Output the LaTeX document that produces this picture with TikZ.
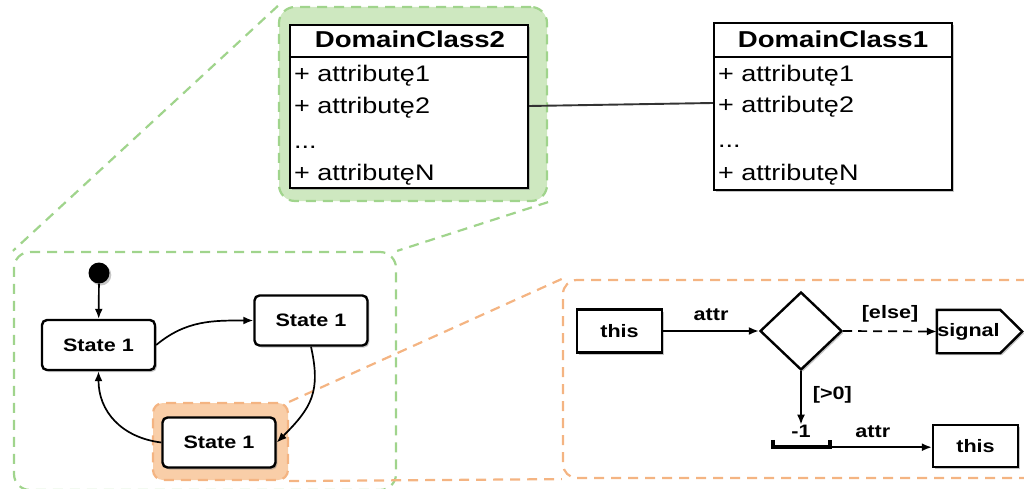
\documentclass[tikz,border=0pt]{standalone}
\usepackage{fontspec}
\setmainfont{Liberation Sans}[FakeStretch=1.2]
\usetikzlibrary{arrows.meta,shadows,shapes.geometric,backgrounds}

\definecolor{zgreen}{RGB}{160,212,140}
\definecolor{zgreenfill}{RGB}{206,232,192}
\definecolor{zorange}{RGB}{244,180,130}
\definecolor{zorangefill}{RGB}{249,206,168}

\begin{document}
\begin{tikzpicture}[x=1pt,y=-1pt,
  shade/.style={drop shadow={shadow xshift=1.8pt,shadow yshift=-2pt,opacity=0.45}},
  classbox/.style={draw=black,line width=2.4pt,fill=white,inner sep=0pt,shade},
  classtitle/.style={font=\fontsize{23}{26}\selectfont\bfseries,anchor=base,inner sep=0pt},
  attrtext/.style={font=\fontsize{22.5}{26}\selectfont,anchor=base west,inner sep=0pt},
  statebox/.style={draw=black,line width=2.4pt,fill=white,rounded corners=5pt,
    minimum width=113pt,minimum height=50pt,inner sep=0pt,
    font=\fontsize{18}{20}\selectfont\bfseries,shade},
  actbox/.style={draw=black,line width=2.4pt,fill=white,minimum width=85pt,
    minimum height=43pt,inner sep=0pt,font=\fontsize{18}{20}\selectfont\bfseries,shade},
  lbl/.style={font=\fontsize{18}{20}\selectfont\bfseries,inner sep=0pt},
  flow/.style={line width=1.7pt,-{Latex[length=10pt,width=8pt]}},
  zoneline/.style={line width=2.2pt,dash pattern=on 10pt off 7pt},
  greenzone/.style={zoneline,draw=zgreen,rounded corners=16pt,inner sep=0pt},
  orangezone/.style={zoneline,draw=zorange,rounded corners=14pt,inner sep=0pt}]

\useasboundingbox (0,0) rectangle (1024,489);
\clip (0,0) rectangle (1024,489);

% ---- zoom frames ----
\node[greenzone,fill=zgreenfill,minimum width=268pt,minimum height=194pt] (hl2) at (413,104) {};
\node[greenzone,minimum width=382pt,minimum height=238pt] (smframe) at (205,371) {};
\draw[zoneline,draw=zgreen] (hl2.north west) -- (smframe.north west);
\draw[zoneline,draw=zgreen] (hl2.south east) -- (smframe.north east);

\node[orangezone,rounded corners=10pt,fill=zorangefill,minimum width=135pt,minimum height=77pt] (hl3) at (220.5,441.5) {};
\node[orangezone,minimum width=477pt,minimum height=198pt] (actframe) at (801.5,379) {};
\draw[zoneline,draw=zorange] (hl3.north east) -- (actframe.north west);
\draw[zoneline,draw=zorange] (hl3.south east) -- (actframe.south west);

% ---- class diagram ----
\node[classbox,minimum width=238pt,minimum height=163pt] (dc2) at (409,106.5) {};
\draw[line width=1.5pt] (dc2.west |- 0,57) -- (dc2.east |- 0,57);
\node[classtitle] (dc2t) at (410,48) {DomainClass2};
\node[attrtext] (dc2a1) at (294,82) {+ attributę1};
\node[attrtext] (dc2a2) at (294,114) {+ attributę2};
\node[attrtext] (dc2a3) at (294,149) {...};
\node[attrtext] (dc2a4) at (294,180) {+ attributęN};

\node[classbox,minimum width=238pt,minimum height=167pt] (dc1) at (833,106.5) {};
\draw[line width=1.5pt] (dc1.west |- 0,57) -- (dc1.east |- 0,57);
\node[classtitle] (dc1t) at (833,48) {DomainClass1};
\node[attrtext] (dc1a1) at (718,82) {+ attributę1};
\node[attrtext] (dc1a2) at (718,113) {+ attributę2};
\node[attrtext] (dc1a3) at (718,148) {...};
\node[attrtext] (dc1a4) at (718,180) {+ attributęN};

\draw[line width=1.9pt,black!80] (dc2.east |- 0,106) -- (dc1.west |- 0,103);

% ---- state machine ----
\node[circle,fill=black,minimum size=21pt,inner sep=0pt,shade] (init) at (99,273) {};
\node[statebox] (s1) at (98.5,345) {State 1};
\node[statebox] (s2) at (311,320.5) {State 1};
\node[statebox] (s3) at (219,442.5) {State 1};

\draw[flow] (init) -- (s1);
\draw[flow] (s1.east) .. controls +(30,-25) and +(-40,0) .. (s2.west);
\draw[flow] (s2.south) .. controls +(10,45) and +(35,-35) .. (s3.east);
\draw[flow] (s3.west) .. controls +(-40,-5) and +(0,40) .. (s1.south);

% ---- activity ----
\node[actbox] (this1) at (619.5,331) {this};
\node[diamond,draw=black,line width=2.4pt,fill=white,minimum width=82pt,
  minimum height=78pt,inner sep=0pt,shade] (dec) at (801,331) {};
\node[lbl,minimum width=63pt,minimum height=43pt] (sig) at (968.5,331.5) {signal};
\begin{scope}[on background layer]
  \path[draw=black,line width=2.4pt,fill=white,shade]
    (sig.north west) -- (sig.north east) -- ([xshift=22pt]sig.east)
    -- (sig.south east) -- (sig.south west) -- cycle;
\end{scope}
\node[actbox,minimum height=42pt] (this2) at (975.5,446) {this};

\draw[flow] (this1.east) -- (dec.west) node[lbl,midway,above=9pt] (l1) {attr};
\draw[flow,dash pattern=on 9pt off 6pt] (dec.east) -- (sig.west)
  node[lbl,midway,above=8pt] (l2) {[else]};

\node[lbl] (m1) at (801,431) {-1};
\draw[flow] (dec.south) -- (m1.north) node[lbl,anchor=west,pos=0.45,xshift=11pt] (l3) {[>0]};
\node[minimum width=57pt,minimum height=7pt,inner sep=0pt] (bar) at (801.5,443.5) {};
\draw[line width=4.5pt] (bar.north west) -- (bar.south west) -- (bar.south east) -- (bar.north east);
\draw[flow] (bar.south east) -- (this2.west |- bar.south east)
  node[lbl,pos=0.42,above=9pt] (l4) {attr};
\end{tikzpicture}
\end{document}
